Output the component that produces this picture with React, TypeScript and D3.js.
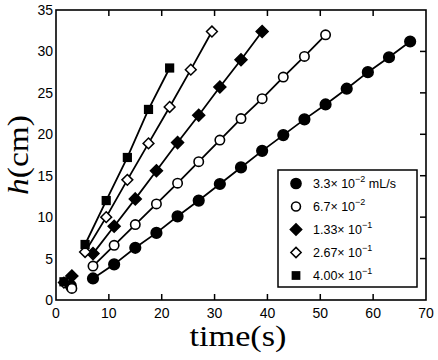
import React, { useEffect, useRef } from "react";
import * as d3 from "d3";

// time (s) and height (cm) per flow rate; first point of each run sits apart (no line)
const tRate1 = [2.8, 7, 11, 15, 19, 23, 27, 31, 35, 39, 43, 47, 51, 55, 59, 63, 67];
const hRate1 = [1.7, 2.6, 4.3, 6.3, 8.1, 10.1, 12.0, 14.0, 16.0, 18.0, 19.9, 21.8, 23.6, 25.5, 27.5, 29.3, 31.2];
const tRate2 = [3, 7, 11, 15, 19, 23, 27, 31, 35, 39, 43, 47, 51];
const hRate2 = [1.4, 4.1, 6.6, 9.1, 11.6, 14.1, 16.7, 19.3, 21.9, 24.3, 26.9, 29.4, 32.0];
const tRate3 = [3, 7, 11, 15, 19, 23, 27, 31, 35, 39];
const hRate3 = [2.9, 5.6, 8.9, 12.2, 15.6, 19.0, 22.3, 25.7, 29.0, 32.4];
const tRate4 = [1.5, 5.5, 9.5, 13.5, 17.5, 21.5, 25.5, 29.5];
const hRate4 = [2.1, 5.8, 10.0, 14.5, 18.9, 23.3, 27.8, 32.4];
const tRate5 = [1.5, 5.5, 9.5, 13.5, 17.5, 21.5];
const hRate5 = [2.2, 6.7, 12.0, 17.2, 23.0, 28.0];

const legendMantissa = ["3.3", "6.7", "1.33", "2.67", "4.00"];
const legendExponent = ["\u22122", "\u22122", "\u22121", "\u22121", "\u22121"];
const legendUnit = [" mL/s", "", "", "", ""];

const xTicks = [0, 10, 20, 30, 40, 50, 60, 70];
const yTicks = [0, 5, 10, 15, 20, 25, 30, 35];

const App = () => {
  const ref = useRef<SVGSVGElement>(null);

  useEffect(() => {
    const svg = d3.select(ref.current);
    svg.selectAll("*").remove();

    const x = d3.scaleLinear().domain([0, 70]).range([56, 426]);
    const y = d3.scaleLinear().domain([0, 35]).range([300, 10]);

    const series = [
      { t: tRate1, h: hRate1, kind: "circle", fill: "black" },
      { t: tRate2, h: hRate2, kind: "circle", fill: "white" },
      { t: tRate3, h: hRate3, kind: "diamond", fill: "black" },
      { t: tRate4, h: hRate4, kind: "diamond", fill: "white" },
      { t: tRate5, h: hRate5, kind: "square", fill: "black" },
    ];

    const marker = (g: any, kind: string, fill: string, cx: number, cy: number, s: number) => {
      if (kind === "circle") {
        g.append("circle")
          .attr("cx", cx)
          .attr("cy", cy)
          .attr("r", fill === "black" ? 5.3 * s : 4.7 * s)
          .attr("fill", fill)
          .attr("stroke", "black")
          .attr("stroke-width", 1.6);
      } else if (kind === "diamond") {
        const r = (fill === "black" ? 6 : 5.4) * s;
        g.append("path")
          .attr("d", `M${cx},${cy - r}L${cx + r},${cy}L${cx},${cy + r}L${cx - r},${cy}Z`)
          .attr("fill", fill)
          .attr("stroke", "black")
          .attr("stroke-width", 1.5);
      } else {
        const a = 4.6 * s;
        g.append("rect")
          .attr("x", cx - a)
          .attr("y", cy - a)
          .attr("width", 2 * a)
          .attr("height", 2 * a)
          .attr("fill", fill);
      }
    };

    // fitted lines (skip first point)
    series.forEach((s) => {
      const pts = s.t.map((t, i) => [t, s.h[i]] as [number, number]).slice(1);
      svg
        .append("path")
        .datum(pts)
        .attr("fill", "none")
        .attr("stroke", "black")
        .attr("stroke-width", 1.8)
        .attr("d", d3.line().x((d) => x(d[0])).y((d) => y(d[1])));
    });

    series.forEach((s) => {
      const g = svg.append("g");
      s.t.forEach((t, i) => marker(g, s.kind, s.fill, x(t), y(s.h[i]), 1));
    });

    // frame
    svg
      .append("rect")
      .attr("x", x(0))
      .attr("y", y(35))
      .attr("width", x(70) - x(0))
      .attr("height", y(0) - y(35))
      .attr("fill", "none")
      .attr("stroke", "black")
      .attr("stroke-width", 1.6);

    const tickLen = 6;
    xTicks.slice(1, -1).forEach((v) => {
      svg.append("line").attr("x1", x(v)).attr("x2", x(v)).attr("y1", y(0)).attr("y2", y(0) - tickLen).attr("stroke", "black").attr("stroke-width", 1.5);
      svg.append("line").attr("x1", x(v)).attr("x2", x(v)).attr("y1", y(35)).attr("y2", y(35) + tickLen).attr("stroke", "black").attr("stroke-width", 1.5);
    });
    yTicks.slice(1, -1).forEach((v) => {
      svg.append("line").attr("x1", x(70)).attr("x2", x(70) - tickLen).attr("y1", y(v)).attr("y2", y(v)).attr("stroke", "black").attr("stroke-width", 1.5);
    });

    const font = "'Liberation Sans', Arial, sans-serif";
    svg
      .selectAll(".xl")
      .data(xTicks)
      .enter()
      .append("text")
      .attr("x", (d) => x(d))
      .attr("y", 318)
      .attr("text-anchor", "middle")
      .style("font-family", font)
      .style("font-size", "14px")
      .text((d) => d);
    svg
      .selectAll(".yl")
      .data(yTicks)
      .enter()
      .append("text")
      .attr("x", 53)
      .attr("y", (d) => y(d) + 5)
      .attr("text-anchor", "end")
      .style("font-family", font)
      .style("font-size", "14px")
      .text((d) => d);

    // axis titles
    const serif = "'Liberation Serif', 'DejaVu Serif', serif";
    svg
      .append("text")
      .attr("x", 238)
      .attr("y", 346)
      .attr("text-anchor", "middle")
      .attr("textLength", 97)
      .attr("lengthAdjust", "spacingAndGlyphs")
      .style("font-family", serif)
      .style("font-size", "29px")
      .text("time(s)");
    const yt = svg
      .append("text")
      .attr("transform", "translate(28,155) rotate(-90)")
      .attr("text-anchor", "middle")
      .attr("textLength", 80)
      .attr("lengthAdjust", "spacingAndGlyphs")
      .style("font-family", serif)
      .style("font-size", "29px");
    yt.append("tspan").style("font-style", "italic").text("h");
    yt.append("tspan").text("(cm)");

    // legend
    const lg = svg.append("g");
    lg.append("rect")
      .attr("x", 278)
      .attr("y", 170)
      .attr("width", 139)
      .attr("height", 117)
      .attr("fill", "white")
      .attr("stroke", "black")
      .attr("stroke-width", 1.5);
    series.forEach((s, i) => {
      const cy = 183.5 + i * 23;
      marker(lg, s.kind, s.fill, 296, cy, 0.95);
      const tx = lg
        .append("text")
        .attr("x", 313)
        .attr("y", cy + 4.5)
        .style("font-family", font)
        .style("font-size", "12.5px");
      tx.append("tspan").text(legendMantissa[i] + "\u00d7 10");
      tx.append("tspan").attr("dy", -6).style("font-size", "9px").text(legendExponent[i]);
      if (legendUnit[i]) tx.append("tspan").attr("dy", 6).text(legendUnit[i]);
    });
  }, []);

  return (
    <svg
      ref={ref}
      width={438}
      height={360}
      style={{ position: "absolute", left: 0, top: 0, background: "white" }}
    />
  );
};

export default App;
